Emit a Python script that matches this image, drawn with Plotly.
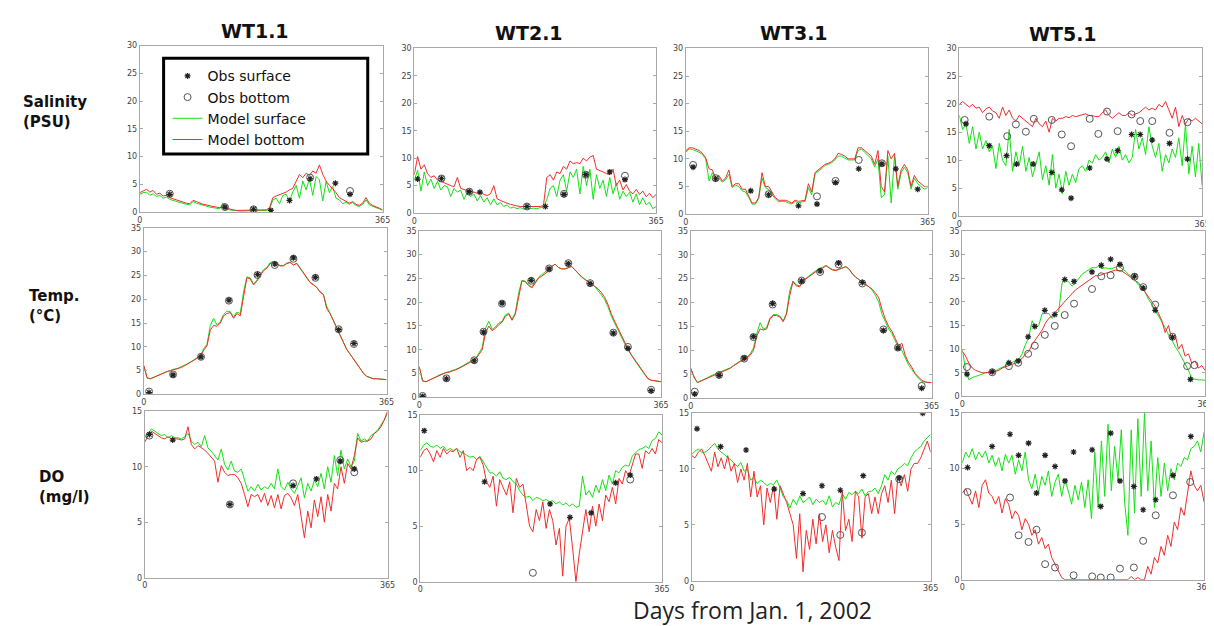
import plotly.graph_objects as go

# ---------------- DATA ----------------
# model output sampled every 5 days (day 0 .. 365)
model_days = list(range(0, 366, 5))

# ---- Salinity (PSU) ----
sal_wt11_surf = [3.2, 3.5, 3.6, 3.0, 3.3, 2.8, 3.0, 2.5, 2.7, 2.3,
                 2.1, 1.9, 1.8, 1.5, 1.4, 1.3, 1.9, 1.6, 1.4, 1.2,
                 1.1, 0.9, 0.8, 0.7, 0.6, 1.6, 0.5, 0.4, 0.3, 0.2,
                 0.2, 0.2, 0.2, 0.2, 0.2, 0.2, 0.2, 0.2, 0.3, 0.5,
                 2.2, 2.5, 1.5, 3.0, 3.2, 2.0, 3.6, 4.8, 2.5, 5.6,
                 4.0, 6.0, 3.0, 6.4, 5.8, 2.0, 5.5, 3.5, 4.6, 2.5,
                 2.2, 1.5, 1.8, 1.4, 1.7, 1.2, 1.0, 1.4, 2.2, 1.3,
                 1.0, 0.8, 0.6, 0.3]
sal_wt11_bot = [3.5, 3.8, 4.1, 3.6, 3.9, 3.2, 3.4, 2.9, 3.0, 2.6,
                2.4, 2.1, 2.0, 1.7, 1.6, 1.5, 2.1, 1.9, 1.6, 1.4,
                1.3, 1.1, 1.0, 0.9, 0.8, 0.9, 0.7, 0.5, 0.4, 0.3,
                0.3, 0.3, 0.3, 0.3, 0.3, 0.3, 0.3, 0.3, 0.4, 0.8,
                2.6, 2.9, 3.1, 3.4, 3.6, 4.0, 4.3, 5.5, 6.8, 6.2,
                7.0, 6.6, 7.4, 7.0, 8.5, 6.8, 5.6, 4.8, 4.2, 3.5,
                2.6, 2.3, 2.0, 1.6, 1.9, 1.4, 1.2, 1.6, 2.6, 1.6,
                1.2, 1.0, 0.7, 0.4]
sal_wt21_surf = [6.0, 7.8, 4.0, 7.5, 5.0, 6.2, 4.5, 5.8, 4.2, 5.0,
                 4.8, 3.0, 4.5, 3.8, 4.2, 2.5, 3.8, 3.0, 3.5, 2.2,
                 3.2, 2.0, 2.8, 1.5, 2.6, 1.5, 1.9, 1.2, 1.5, 0.9,
                 1.1, 0.8, 1.0, 0.7, 1.0, 0.8, 0.9, 0.8, 1.0, 1.0,
                 2.5, 4.5, 5.0, 3.0, 6.0, 7.0, 4.0, 7.5, 6.5, 8.0,
                 3.5, 8.5, 5.0, 8.0, 2.5, 7.0, 4.5, 6.0, 3.0, 6.5,
                 3.5, 5.5, 2.5, 4.0, 3.0, 3.8, 2.0, 3.5, 1.5, 2.8,
                 1.5, 2.0, 0.8, 1.2]
sal_wt21_bot = [7.0, 10.3, 8.0, 8.8, 7.2, 6.5, 6.8, 6.0, 5.8, 5.5,
                5.2, 5.0, 4.8, 6.5, 4.5, 4.3, 4.0, 3.9, 3.8, 3.6,
                3.8, 3.4, 3.2, 3.5, 5.0, 2.6, 2.3, 2.0, 1.8, 1.6,
                1.4, 1.3, 1.2, 1.2, 1.2, 1.1, 1.2, 1.2, 1.2, 1.4,
                6.5, 7.0, 6.0, 7.5, 7.2, 8.5, 8.0, 9.5, 9.0, 9.2,
                9.0, 10.0, 9.5, 10.2, 10.5, 8.0, 7.8, 7.5, 7.2, 7.0,
                8.0, 5.0, 6.0, 4.2, 5.2, 4.0, 3.5, 4.3, 3.4, 4.0,
                3.0, 3.6, 2.8, 3.4]
sal_wt31_surf = [11.2, 11.8, 11.7, 11.5, 11.2, 10.8, 10.0, 6.0, 7.5, 6.2,
                 6.5, 5.8, 6.2, 7.2, 4.8, 5.2, 5.0, 4.2, 4.0, 3.0,
                 1.8, 1.8, 2.8, 6.5, 4.8, 4.5, 3.5, 2.8, 2.2, 2.3,
                 2.3, 2.0, 1.8, 2.3, 2.0, 2.2, 2.3, 4.8, 3.5, 7.2,
                 7.8, 8.2, 8.8, 9.0, 9.3, 9.8, 10.5, 10.5, 10.2, 9.8,
                 9.8, 9.8, 11.5, 11.8, 11.2, 10.5, 10.0, 8.5, 10.0, 3.0,
                 3.5, 10.5, 2.0, 10.5, 4.5, 7.5, 8.5, 7.5, 4.5, 6.5,
                 5.5, 5.0, 4.5, 4.8]
sal_wt31_bot = [11.5, 12.0, 12.0, 11.8, 11.5, 11.0, 10.2, 8.2, 8.0, 6.5,
                7.0, 6.0, 6.5, 8.0, 5.0, 5.5, 5.5, 4.5, 4.5, 3.2,
                2.0, 2.0, 3.0, 7.5, 5.0, 5.0, 4.0, 3.0, 2.5, 2.5,
                2.5, 2.3, 2.0, 2.5, 2.3, 2.4, 2.5, 5.5, 4.0, 7.5,
                8.0, 8.5, 9.0, 9.2, 9.5, 10.0, 11.0, 10.8, 10.5, 10.0,
                10.0, 10.0, 12.0, 12.0, 11.5, 11.0, 10.5, 9.0, 11.5, 5.0,
                4.0, 11.5, 10.0, 11.0, 5.0, 8.0, 9.0, 8.0, 5.0, 7.0,
                6.0, 5.5, 5.0, 5.0]
sal_wt51_surf = [18.0, 15.5, 16.5, 13.0, 16.0, 12.0, 15.0, 12.0, 13.5, 11.5,
                 12.5, 8.5, 13.0, 10.0, 9.0, 15.5, 8.0, 11.5, 9.0, 12.5,
                 8.0, 10.5, 7.0, 9.5, 11.5, 6.5, 9.0, 5.5, 11.0, 5.0,
                 7.5, 4.0, 8.0, 5.5, 7.5, 6.0, 8.5, 9.0, 8.0, 10.0,
                 9.5, 11.0, 10.0, 10.5, 11.5, 9.5, 12.0, 10.5, 12.5, 10.0,
                 11.0, 9.5, 10.5, 15.5, 12.0, 14.0, 11.0, 16.0, 12.5, 10.5,
                 13.0, 8.0, 11.0, 9.5, 12.0, 10.5, 14.0, 9.0, 16.5, 7.5,
                 12.5, 7.0, 13.0, 5.5]
sal_wt51_bot = [20.0, 20.5, 20.0, 19.5, 20.0, 19.3, 19.5, 18.5, 19.2, 19.5,
                18.8, 18.5, 17.5, 19.5, 18.0, 19.0, 17.5, 17.0, 18.0, 17.5,
                17.0, 16.5, 16.0, 17.5, 16.5, 16.0, 17.0, 15.0, 17.5, 17.0,
                17.5, 17.5, 17.8, 17.6, 18.0, 17.8, 18.0, 18.2, 18.3, 18.0,
                18.0, 17.8, 17.8, 18.5, 19.0, 18.0, 17.5, 18.0, 18.5, 18.0,
                18.0, 18.5, 18.0, 18.3, 18.5, 19.0, 19.5, 19.0, 19.3, 19.0,
                20.0, 19.5, 20.5, 19.0, 17.5, 19.5, 16.0, 18.0, 16.5, 17.5,
                17.0, 17.5, 17.0, 16.5]

# ---- Temperature (deg C) ----
tmp_wt11_surf = [6.0, 3.4, 3.3, 3.6, 4.0, 4.3, 4.6, 4.8, 5.0, 5.3,
                 5.4, 5.7, 6.0, 6.4, 6.8, 7.3, 7.7, 8.1, 9.6, 10.5,
                 14.5, 16.0, 14.6, 15.3, 16.8, 17.5, 17.4, 16.3, 17.3, 17.0,
                 21.5, 24.7, 24.5, 23.2, 24.0, 25.2, 26.2, 26.7, 27.7, 27.9,
                 27.5, 27.1, 27.1, 27.6, 27.8, 27.2, 27.6, 26.6, 25.5, 24.5,
                 23.6, 23.1, 22.5, 21.6, 21.0, 18.5, 17.2, 15.6, 14.0, 12.5,
                 11.0, 9.5, 8.5, 7.5, 6.5, 5.5, 4.5, 3.8, 3.5, 3.3,
                 3.3, 3.2, 3.1, 3.1]
tmp_wt11_bot = [6.1, 3.5, 3.3, 3.6, 4.0, 4.3, 4.6, 4.8, 5.0, 5.2,
                5.3, 5.6, 5.9, 6.3, 6.7, 7.2, 7.6, 8.0, 9.3, 10.2,
                13.5, 14.5, 14.3, 15.0, 16.5, 17.0, 17.2, 16.0, 17.0, 16.5,
                20.5, 24.5, 24.3, 23.0, 23.8, 25.0, 26.0, 26.5, 27.5, 27.7,
                27.3, 27.0, 27.0, 27.5, 27.7, 27.2, 27.5, 26.5, 25.5, 24.3,
                23.5, 23.0, 22.5, 21.5, 21.0, 18.0, 17.0, 15.5, 14.0, 12.5,
                11.0, 9.5, 8.5, 7.5, 6.5, 5.5, 4.5, 3.8, 3.5, 3.3,
                3.3, 3.2, 3.1, 3.1]
tmp_wt21_surf = [6.3, 3.4, 3.3, 3.6, 4.0, 4.3, 4.7, 5.0, 5.2, 5.4,
                 5.6, 5.9, 6.2, 6.6, 7.0, 7.4, 7.7, 8.2, 9.3, 10.5,
                 14.5, 16.0, 14.3, 14.8, 15.6, 16.0, 17.3, 17.7, 16.4, 17.8,
                 22.0, 24.6, 24.4, 23.6, 23.2, 24.2, 25.2, 25.8, 26.4, 27.0,
                 27.6, 28.0, 27.3, 27.0, 27.0, 27.3, 27.5, 26.8, 26.0, 25.3,
                 24.8, 24.2, 23.8, 23.3, 22.5, 21.5, 20.5, 19.0, 17.0, 15.5,
                 14.0, 12.7, 11.3, 10.0, 8.8, 7.8, 6.8, 5.8, 4.8, 3.9,
                 3.6, 3.5, 3.4, 3.3]
tmp_wt21_bot = [6.5, 3.5, 3.3, 3.6, 4.0, 4.3, 4.6, 4.9, 5.2, 5.3,
                5.5, 5.8, 6.1, 6.5, 6.9, 7.3, 7.6, 8.0, 9.0, 10.0,
                13.5, 15.0, 14.0, 14.5, 15.3, 15.8, 17.0, 17.5, 16.2, 17.5,
                21.0, 24.5, 24.3, 23.5, 23.0, 24.0, 25.0, 25.5, 26.0, 26.5,
                27.5, 28.0, 27.3, 27.0, 27.0, 27.3, 27.5, 26.8, 26.0, 25.3,
                24.8, 24.2, 23.8, 23.3, 22.8, 22.0, 21.0, 19.5, 17.5, 16.0,
                14.5, 13.0, 11.5, 10.2, 9.0, 8.0, 7.0, 6.0, 5.0, 4.0,
                3.6, 3.5, 3.4, 3.3]
tmp_wt31_surf = [6.0, 4.3, 3.3, 3.6, 4.0, 4.3, 4.7, 5.0, 5.3, 5.5,
                 5.8, 6.1, 6.4, 6.9, 7.4, 7.8, 8.1, 8.6, 9.3, 10.5,
                 13.5, 15.8, 14.5, 14.8, 16.8, 17.5, 17.5, 17.2, 16.2, 17.8,
                 22.5, 24.5, 23.7, 23.5, 24.6, 25.2, 25.7, 26.2, 26.7, 27.2,
                 27.4, 27.8, 27.3, 26.9, 26.8, 27.0, 27.3, 27.5, 27.0, 26.0,
                 25.3, 24.8, 24.2, 23.8, 23.3, 22.6, 21.5, 20.0, 17.5, 16.0,
                 14.5, 13.5, 12.0, 10.5, 10.0, 8.5, 7.0, 6.0, 5.0, 4.2,
                 3.6, 3.4, 3.3, 3.3]
tmp_wt31_bot = [6.3, 4.5, 3.3, 3.6, 4.0, 4.3, 4.6, 4.9, 5.2, 5.4,
                5.7, 6.0, 6.3, 6.8, 7.3, 7.7, 8.0, 8.4, 9.0, 10.0,
                13.0, 14.5, 14.3, 14.5, 16.5, 17.3, 17.3, 17.0, 16.0, 17.5,
                21.5, 24.4, 23.5, 23.3, 24.5, 25.0, 25.5, 26.0, 26.5, 27.0,
                27.2, 27.7, 27.2, 26.8, 26.7, 27.0, 27.3, 27.5, 27.0, 26.0,
                25.3, 24.8, 24.2, 23.8, 23.3, 22.8, 22.0, 21.0, 18.5, 16.5,
                15.0, 14.0, 12.5, 11.0, 11.5, 9.0, 7.5, 6.5, 5.2, 4.5,
                3.8, 3.4, 3.3, 3.3]
tmp_wt51_surf = [10.0, 5.5, 3.5, 4.0, 4.2, 4.5, 4.8, 5.0, 5.1, 5.2,
                 5.4, 5.8, 6.1, 6.5, 6.9, 7.2, 7.5, 7.8, 9.0, 11.0,
                 12.5, 16.0, 14.5, 15.0, 17.5, 17.5, 17.5, 16.5, 17.3, 18.0,
                 24.0, 24.7, 24.2, 23.3, 24.0, 25.0, 25.8, 26.3, 26.8, 27.2,
                 27.2, 27.5, 27.0, 27.2, 27.0, 27.0, 27.3, 27.5, 27.0, 26.5,
                 25.8, 25.3, 24.5, 23.5, 23.0, 22.0, 20.5, 19.5, 18.2, 17.0,
                 16.0, 14.5, 13.0, 12.0, 10.5, 9.5, 8.2, 7.0, 5.5, 3.8,
                 3.6, 3.5, 3.5, 3.4]
tmp_wt51_bot = [9.5, 8.5, 7.0, 6.0, 5.5, 5.2, 5.0, 5.0, 5.0, 5.1,
                5.3, 5.5, 6.0, 6.2, 6.5, 6.8, 7.0, 7.5, 8.0, 9.0,
                9.5, 11.0, 12.0, 13.0, 14.0, 15.5, 16.5, 17.0, 17.8, 18.8,
                19.5, 20.3, 21.0, 21.7, 22.5, 23.0, 23.5, 24.0, 24.5, 25.0,
                25.5, 25.5, 25.8, 26.0, 26.2, 26.4, 26.7, 26.6, 26.5, 26.0,
                25.5, 25.0, 24.5, 24.0, 23.0, 22.0, 21.0, 20.0, 19.0, 17.5,
                16.0, 13.5, 15.0, 12.0, 13.0, 10.0, 11.0, 8.5, 9.0, 7.0,
                7.5, 6.0, 6.5, 5.5]

# ---- Dissolved oxygen (mg/l) ----
do_wt11_surf = [12.6, 13.0, 13.4, 13.2, 13.0, 12.8, 12.9, 12.6, 12.8, 12.6,
                12.6, 12.5, 12.7, 13.0, 12.3, 12.0, 12.2, 11.8, 12.8, 11.7,
                11.4, 11.0, 10.6, 11.6, 10.2, 9.7, 10.5, 9.6, 9.5, 9.8,
                8.7, 7.8, 8.2, 7.8, 8.4, 7.9, 8.2, 8.0, 8.5, 8.0,
                9.8, 8.2, 7.9, 8.6, 8.0, 7.6, 8.3, 9.0, 7.2, 8.5,
                7.8, 8.8, 8.2, 9.4, 8.0, 10.0, 8.6, 11.0, 9.2, 11.5,
                9.8, 10.7, 10.0, 10.5, 13.0, 12.3, 12.5, 12.3, 12.8, 13.0,
                13.3, 13.7, 14.2, 14.8]
do_wt11_bot = [12.2, 12.8, 13.2, 13.0, 12.8, 12.6, 12.5, 12.7, 12.5, 12.5,
               12.5, 12.4, 12.5, 13.6, 12.0, 11.6, 11.9, 11.7, 11.5, 11.2,
               10.8, 10.5, 8.6, 10.1, 9.5, 9.2, 9.3, 9.3, 9.0, 8.5,
               7.5, 6.4, 7.5, 7.3, 7.5, 6.8, 7.6, 6.5, 7.4, 6.3,
               7.5, 6.2, 7.4, 7.6, 7.2, 6.5, 7.5, 5.5, 3.6, 6.0,
               4.5, 7.0, 5.5, 7.3, 5.0, 7.5, 6.0, 8.5, 8.0, 10.0,
               8.5, 10.3, 9.8, 11.0, 12.6, 12.2, 12.3, 12.3, 12.5, 13.0,
               13.2, 13.6, 14.2, 15.0]
do_wt21_surf = [11.8, 12.3, 12.5, 12.2, 12.1, 12.3, 12.0, 12.2, 11.8, 12.0,
                11.8, 12.0, 11.7, 11.6, 11.4, 11.2, 11.3, 11.0, 11.3, 10.8,
                10.2, 9.8, 9.8, 9.5, 9.9, 9.3, 9.2, 9.4, 9.0, 8.8,
                8.2, 7.8, 7.6, 7.7, 7.3, 7.6, 7.5, 7.3, 7.4, 7.2,
                7.3, 7.0, 7.2, 6.9, 7.1, 6.8, 7.0, 6.7, 6.8, 9.5,
                7.8, 8.2, 7.6, 8.7, 8.0, 9.2, 8.2, 9.6, 8.8, 10.0,
                9.8, 10.3, 10.5, 10.4, 11.3, 11.6, 11.9, 12.0, 12.2, 12.0,
                12.7, 12.9, 13.5, 13.2]
do_wt21_bot = [11.2, 11.8, 12.0, 11.5, 10.8, 11.8, 11.2, 12.0, 11.5, 11.8,
               11.7, 12.0, 11.2, 11.8, 10.0, 10.3, 10.0, 11.0, 11.2, 10.5,
               9.0, 8.5, 9.5, 6.8, 9.2, 8.5, 7.8, 9.0, 6.2, 9.3,
               8.5, 8.8, 7.0, 5.0, 4.5, 6.5, 5.5, 7.2, 4.8, 6.5,
               5.5, 3.3, 4.8, 0.5, 5.0, 5.7, 3.0, 0.0, 2.5, 4.5,
               6.5, 4.5, 6.8, 5.0, 7.0, 5.5, 7.8, 7.2, 8.5, 7.0,
               9.3, 8.8, 10.0, 9.5, 10.5, 11.5, 11.5, 10.2, 11.8, 11.5,
               12.0, 11.5, 12.8, 12.5]
do_wt31_surf = [11.3, 11.6, 11.8, 11.5, 11.5, 11.7, 12.0, 12.3, 11.8, 11.5,
                11.3, 11.0, 10.8, 10.5, 10.2, 10.6, 9.8, 10.0, 9.0, 9.2,
                8.7, 9.0, 8.8, 8.5, 8.7, 8.6, 9.0, 8.3, 7.5, 7.2,
                6.5, 7.3, 6.8, 7.6, 7.0, 7.2, 7.5, 6.8, 7.3, 7.0,
                7.2, 6.8, 7.6, 6.6, 7.0, 6.8, 7.8, 7.3, 7.9, 7.7,
                8.0, 7.8, 8.2, 7.6, 8.0, 8.0, 8.3, 7.8, 8.5, 9.5,
                9.0, 9.8, 9.5, 10.0, 10.2, 10.5, 10.3, 11.0, 11.5, 11.8,
                12.0, 12.5, 12.8, 13.1]
do_wt31_bot = [11.2, 11.0, 11.5, 11.8, 11.2, 10.5, 9.8, 11.5, 10.2, 11.0,
               10.0, 11.2, 9.8, 10.5, 8.8, 10.0, 9.0, 10.5, 7.5, 9.8,
               7.5, 8.5, 5.0, 8.3, 7.0, 8.5, 5.5, 8.5, 7.8, 7.0,
               6.0, 5.0, 2.0, 6.0, 0.8, 4.5, 2.8, 5.5, 3.3, 6.0,
               3.5, 5.0, 2.5, 4.5, 3.0, 1.8, 8.0, 4.5, 5.5, 3.5,
               8.0, 7.5, 3.8, 7.5, 7.8, 6.0, 7.5, 6.0, 7.8, 8.5,
               7.0, 9.0, 6.0, 9.3, 8.5, 9.5, 8.0, 10.0, 10.5, 10.5,
               11.0, 11.8, 12.5, 11.5]
do_wt51_surf = [10.5, 11.5, 11.0, 11.8, 10.8, 11.5, 11.0, 11.6, 10.5, 11.2,
                10.2, 11.0, 9.8, 11.3, 10.5, 11.2, 9.5, 10.8, 9.8, 11.5,
                9.0, 8.2, 9.5, 7.8, 9.3, 8.5, 9.8, 7.5, 8.8, 9.5,
                7.5, 9.0, 8.0, 6.8, 8.5, 7.2, 8.8, 6.5, 9.0, 5.5,
                11.5, 6.5, 12.5, 7.5, 14.0, 8.0, 12.0, 9.0, 13.5, 7.0,
                4.0, 13.5, 6.0, 14.5, 7.5, 15.0, 8.0, 12.5, 6.5, 11.0,
                7.5, 10.5, 8.0, 10.0, 9.0, 10.5, 10.2, 11.0, 10.8, 11.8,
                12.0, 12.5, 11.5, 13.3]
do_wt51_bot = [7.8, 8.2, 7.5, 6.8, 8.0, 6.5, 8.5, 9.0, 7.8, 7.5,
               6.8, 7.5, 6.0, 7.3, 6.8, 5.5, 6.2, 5.8, 4.5, 5.5,
               5.0, 4.0, 4.5, 3.2, 3.8, 2.8, 3.2, 2.0, 1.4, 0.8,
               0.2, 0.0, 0.0, 0.0, 0.0, 0.0, 0.0, 0.0, 0.0, 0.0,
               0.0, 0.0, 0.0, 0.0, 0.0, 0.0, 0.0, 0.0, 0.0, 0.0,
               0.0, 0.3, 0.0, 0.2, 0.0, 0.0, 1.2, 0.5, 2.0, 1.5,
               3.0, 2.2, 4.0, 3.0, 5.2, 4.5, 6.5, 5.8, 8.0, 9.8,
               8.5, 8.0, 8.5, 7.0]

# ---- Observations (day, value) ----
sal_wt11_obs_s_day = [45, 128, 171, 197, 225, 256, 294, 316]
sal_wt11_obs_s = [3.2, 0.9, 0.5, 0.3, 2.1, 6.0, 5.2, 3.2]
sal_wt11_obs_b_day = [45, 128, 171, 256, 316]
sal_wt11_obs_b = [3.3, 0.9, 0.5, 6.2, 3.8]
sal_wt21_obs_s_day = [5, 41, 83, 99, 170, 198, 226, 259, 295, 318]
sal_wt21_obs_s = [6.2, 6.3, 3.9, 3.8, 1.2, 1.2, 3.4, 7.0, 7.5, 6.1]
sal_wt21_obs_b_day = [41, 83, 170, 226, 259, 318]
sal_wt21_obs_b = [6.3, 3.9, 1.2, 3.5, 7.0, 6.8]
sal_wt31_obs_s_day = [11, 45, 98, 125, 170, 198, 226, 261, 296, 317, 350]
sal_wt31_obs_s = [8.5, 6.4, 4.2, 3.5, 1.5, 1.8, 5.7, 8.2, 9.1, 8.2, 4.5]
sal_wt31_obs_b_day = [11, 45, 125, 198, 226, 261, 296]
sal_wt31_obs_b = [8.9, 6.5, 3.6, 3.2, 6.0, 9.8, 9.2]
sal_wt51_obs_s_day = [10, 45, 71, 86, 111, 139, 154, 168, 196, 222, 238, 259, 272, 290, 316, 343]
sal_wt51_obs_s = [16.5, 12.6, 10.8, 9.3, 9.3, 7.8, 4.7, 3.2, 8.6, 10.2, 11.7, 14.6, 14.6, 13.6, 13.0, 10.2]
sal_wt51_obs_b_day = [8, 45, 72, 85, 100, 112, 139, 154, 168, 196, 209, 222, 238, 259, 272, 290, 316, 343]
sal_wt51_obs_b = [17.2, 17.8, 14.3, 16.4, 15.1, 17.4, 17.2, 14.6, 12.5, 17.4, 14.7, 18.7, 15.2, 18.2, 17.0, 17.0, 14.9, 16.8]

tmp_wt11_obs_s_day = [8, 44, 86, 128, 171, 197, 225, 258, 293, 316]
tmp_wt11_obs_s = [0.4, 4.1, 7.9, 19.8, 25.2, 27.4, 28.7, 24.6, 13.6, 10.7]
tmp_wt11_obs_b_day = [8, 44, 86, 128, 171, 197, 225, 258, 293, 316]
tmp_wt11_obs_b = [0.6, 4.2, 7.9, 19.7, 25.1, 27.2, 28.5, 24.5, 13.7, 10.6]
tmp_wt21_obs_s_day = [5, 41, 83, 97, 125, 169, 196, 225, 258, 293, 315, 350]
tmp_wt21_obs_s = [0.2, 3.9, 7.7, 13.7, 19.8, 24.6, 27.0, 28.1, 23.9, 13.5, 10.3, 1.4]
tmp_wt21_obs_b_day = [5, 41, 83, 97, 125, 169, 196, 225, 258, 293, 315, 350]
tmp_wt21_obs_b = [0.3, 4.0, 7.8, 13.8, 19.7, 24.5, 27.1, 28.2, 24.0, 13.6, 10.6, 1.6]
tmp_wt31_obs_s_day = [6, 43, 81, 95, 124, 168, 196, 224, 260, 292, 314, 350]
tmp_wt31_obs_s = [0.9, 4.8, 8.4, 12.9, 19.8, 24.5, 26.6, 28.3, 24.2, 14.2, 10.5, 2.1]
tmp_wt31_obs_b_day = [6, 43, 81, 95, 124, 168, 196, 224, 260, 292, 314, 350]
tmp_wt31_obs_b = [1.4, 4.9, 8.3, 12.8, 19.6, 24.6, 26.4, 28.0, 24.0, 14.4, 10.6, 2.6]
tmp_wt51_obs_s_day = [7, 45, 70, 84, 99, 109, 124, 139, 154, 168, 195, 209, 223, 237, 259, 272, 290, 316, 343]
tmp_wt51_obs_s = [4.7, 5.2, 7.1, 7.5, 12.6, 14.8, 18.2, 17.3, 24.7, 24.3, 26.3, 27.7, 29.0, 27.9, 25.4, 22.9, 18.2, 12.5, 3.6]
tmp_wt51_obs_b_day = [7, 45, 70, 84, 99, 109, 124, 139, 154, 168, 195, 209, 223, 237, 259, 272, 290, 316, 338, 349]
tmp_wt51_obs_b = [6.2, 5.1, 6.4, 7.1, 9.0, 10.7, 13.0, 14.9, 17.2, 19.6, 22.7, 25.4, 25.6, 27.2, 25.3, 23.1, 19.4, 12.6, 6.4, 6.6]

do_wt11_obs_s_day = [7, 42, 128, 223, 258, 294, 315]
do_wt11_obs_s = [12.9, 12.4, 6.6, 8.3, 8.9, 10.5, 9.8]
do_wt11_obs_b_day = [7, 128, 223, 294, 315]
do_wt11_obs_b = [12.8, 6.6, 8.5, 10.6, 9.5]
do_wt21_obs_s_day = [6, 97, 196, 226, 258, 295, 317]
do_wt21_obs_s = [13.6, 9.0, 7.0, 5.8, 6.2, 8.9, 9.6]
do_wt21_obs_b_day = [170, 317]
do_wt21_obs_b = [0.8, 9.2]
do_wt31_obs_s_day = [8, 44, 83, 126, 170, 199, 227, 262, 317, 353]
do_wt31_obs_s = [13.6, 12.0, 11.7, 8.2, 7.8, 8.5, 8.1, 9.4, 9.2, 15.0]
do_wt31_obs_b_day = [199, 227, 260, 317]
do_wt31_obs_b = [5.7, 4.1, 4.3, 9.1]
do_wt51_obs_s_day = [8, 45, 72, 85, 100, 112, 125, 140, 155, 168, 196, 209, 224, 238, 259, 273, 292, 318, 345]
do_wt51_obs_s = [10.1, 12.0, 13.1, 11.2, 12.3, 7.8, 11.2, 10.2, 8.9, 11.5, 11.7, 6.6, 13.2, 8.9, 8.4, 6.3, 7.2, 9.4, 12.9]
do_wt51_obs_b_day = [8, 72, 85, 100, 112, 125, 140, 168, 196, 209, 224, 238, 259, 273, 292, 318, 344]
do_wt51_obs_b = [7.9, 7.4, 4.0, 3.4, 4.5, 1.4, 1.1, 0.4, 0.3, 0.2, 0.2, 1.0, 1.1, 3.5, 5.8, 7.6, 8.8]

stations = ["WT1.1", "WT2.1", "WT3.1", "WT5.1"]
row_labels = ["Salinity<br>(PSU)", "Temp.<br>(°C)", "DO<br>(mg/l)"]
x_tick_labels = ["0", "365"]
x_title = "Days from Jan. 1, 2002"

# --------------- BUILD ---------------
panels = [
    (sal_wt11_surf, sal_wt11_bot, sal_wt11_obs_s_day, sal_wt11_obs_s, sal_wt11_obs_b_day, sal_wt11_obs_b, 30),
    (sal_wt21_surf, sal_wt21_bot, sal_wt21_obs_s_day, sal_wt21_obs_s, sal_wt21_obs_b_day, sal_wt21_obs_b, 30),
    (sal_wt31_surf, sal_wt31_bot, sal_wt31_obs_s_day, sal_wt31_obs_s, sal_wt31_obs_b_day, sal_wt31_obs_b, 30),
    (sal_wt51_surf, sal_wt51_bot, sal_wt51_obs_s_day, sal_wt51_obs_s, sal_wt51_obs_b_day, sal_wt51_obs_b, 30),
    (tmp_wt11_surf, tmp_wt11_bot, tmp_wt11_obs_s_day, tmp_wt11_obs_s, tmp_wt11_obs_b_day, tmp_wt11_obs_b, 35),
    (tmp_wt21_surf, tmp_wt21_bot, tmp_wt21_obs_s_day, tmp_wt21_obs_s, tmp_wt21_obs_b_day, tmp_wt21_obs_b, 35),
    (tmp_wt31_surf, tmp_wt31_bot, tmp_wt31_obs_s_day, tmp_wt31_obs_s, tmp_wt31_obs_b_day, tmp_wt31_obs_b, 35),
    (tmp_wt51_surf, tmp_wt51_bot, tmp_wt51_obs_s_day, tmp_wt51_obs_s, tmp_wt51_obs_b_day, tmp_wt51_obs_b, 35),
    (do_wt11_surf, do_wt11_bot, do_wt11_obs_s_day, do_wt11_obs_s, do_wt11_obs_b_day, do_wt11_obs_b, 15),
    (do_wt21_surf, do_wt21_bot, do_wt21_obs_s_day, do_wt21_obs_s, do_wt21_obs_b_day, do_wt21_obs_b, 15),
    (do_wt31_surf, do_wt31_bot, do_wt31_obs_s_day, do_wt31_obs_s, do_wt31_obs_b_day, do_wt31_obs_b, 15),
    (do_wt51_surf, do_wt51_bot, do_wt51_obs_s_day, do_wt51_obs_s, do_wt51_obs_b_day, do_wt51_obs_b, 15),
]

for i, p in enumerate(panels):
    for arr in (p[0], p[1]):
        if len(arr) != len(model_days):
            raise ValueError(f"panel {i}: series length {len(arr)} != {len(model_days)}")
    if len(p[2]) != len(p[3]) or len(p[4]) != len(p[5]):
        raise ValueError(f"panel {i}: obs length mismatch")

W, H = 1214, 626
# panel boxes in pixels: (left, right, top, bottom)
boxes = [
    (130, 375, 34, 203), (407, 651, 37, 204), (681, 925, 37, 205), (957, 1202, 37, 207),
    (134, 379, 219, 388), (412, 656, 222, 391), (686, 929, 222, 392), (960, 1205, 222, 390),
    (135, 380, 405, 574), (413, 657, 409, 578), (687, 928, 407, 577), (960, 1204, 407, 576),
]

GREEN = "rgb(20,225,20)"
RED = "rgb(240,45,45)"

fig = go.Figure()
layout = {}
axis_common = dict(showgrid=False, zeroline=False, showline=True, linecolor="#a8a8a8",
                   linewidth=1, mirror="ticks", ticks="inside", ticklen=3,
                   tickcolor="#a8a8a8", tickfont=dict(size=8, color="#444",
                                                     family="DejaVu Sans"))
for k, (p, b) in enumerate(zip(panels, boxes)):
    surf, bot, sd, sv, bd, bv, ymax = p
    n = k + 1
    xa = "x" if n == 1 else f"x{n}"
    ya = "y" if n == 1 else f"y{n}"
    first = (n == 1)
    fig.add_trace(go.Scatter(x=model_days, y=surf, mode="lines", name="Model surface",
                             line=dict(color=GREEN, width=1), xaxis=xa, yaxis=ya,
                             showlegend=first, legendrank=3))
    fig.add_trace(go.Scatter(x=model_days, y=bot, mode="lines", name="Model bottom",
                             line=dict(color=RED, width=1), xaxis=xa, yaxis=ya,
                             showlegend=first, legendrank=4))
    fig.add_trace(go.Scatter(x=bd, y=bv, mode="markers", name="Obs bottom",
                             marker=dict(symbol="circle-open", size=7,
                                         line=dict(color="#555", width=1), color="#555"),
                             xaxis=xa, yaxis=ya, showlegend=first, legendrank=2))
    fig.add_trace(go.Scatter(x=sd, y=sv, mode="markers", name="Obs surface",
                             marker=dict(symbol="asterisk-open", size=5,
                                         line=dict(color="#222", width=1.2), color="#222"),
                             xaxis=xa, yaxis=ya, showlegend=first, legendrank=1))
    l, r, t, btm = b
    xkey = "xaxis" if n == 1 else f"xaxis{n}"
    ykey = "yaxis" if n == 1 else f"yaxis{n}"
    layout[xkey] = dict(axis_common, domain=[l / W, r / W], range=[0, 365],
                        tickvals=[model_days[0], 365], ticktext=x_tick_labels,
                        anchor=ya, fixedrange=True)
    layout[ykey] = dict(axis_common, domain=[1 - btm / H, 1 - t / H], range=[0, ymax],
                        dtick=5, tick0=0, anchor=xa, fixedrange=True)

fig.update_layout(**layout)

annotations = []
title_pos = [(246, 19), (523, 21), (790, 21), (1062, 22)]
for name, (px, py) in zip(stations, title_pos):
    annotations.append(dict(text=f"<b>{name}</b>", x=px / W, y=1 - py / H, xref="paper",
                            yref="paper", showarrow=False, xanchor="center", yanchor="middle",
                            font=dict(size=19, family="DejaVu Sans", color="#111")))
row_pos = [(10, 101), (16, 298), (26, 482)]
for lab, (px, py) in zip(row_labels, row_pos):
    annotations.append(dict(text=f"<b>{lab}</b>", x=px / W, y=1 - py / H, xref="paper",
                            yref="paper", showarrow=False, xanchor="left", yanchor="middle",
                            align="left", font=dict(size=15, family="DejaVu Sans", color="#111")))
annotations.append(dict(text=x_title, x=748 / W, y=1 - 625 / H, xref="paper", yref="paper",
                        showarrow=False, xanchor="center", yanchor="bottom",
                        font=dict(size=23, family="Open Sans", color="#222")))

# legend frame (thick black box as in the original figure)
legend_box = dict(type="rect", xref="paper", yref="paper",
                  x0=154 / W, x1=360 / W, y0=1 - 144 / H, y1=1 - 47 / H,
                  line=dict(color="black", width=3), fillcolor="white", layer="above")

fig.update_layout(
    width=W, height=H, margin=dict(l=0, r=0, t=0, b=0),
    paper_bgcolor="white", plot_bgcolor="white",
    annotations=annotations,
    shapes=[legend_box],
    legend=dict(x=158 / W, y=1 - 49 / H, xanchor="left", yanchor="top",
                borderwidth=0, bgcolor="rgba(0,0,0,0)",
                font=dict(size=14, family="DejaVu Sans", color="#111"),
                tracegroupgap=0),
)

fig.write_html("out.html")
